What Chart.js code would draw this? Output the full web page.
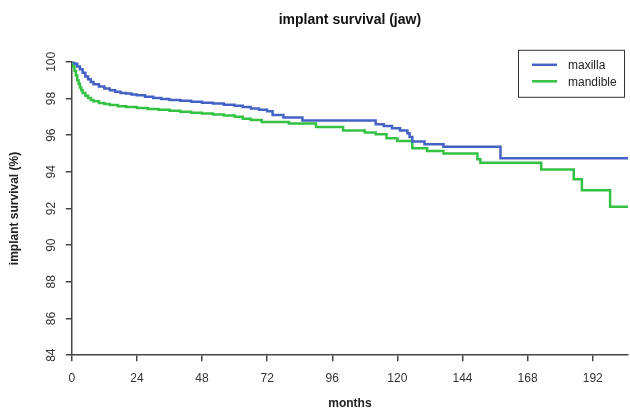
<!DOCTYPE html>
<html lang="en">
<head>
  <meta charset="UTF-8">
  <script src="https://cdn.jsdelivr.net/npm/chart.js"></script>
  <title>implant survival (jaw)</title>
  <style>
    body { margin: 0; background: #fff; }
    #wrap { width: 630px; height: 408px; }
  </style>
</head>
<body>
  <div id="wrap"><canvas id="km"></canvas></div>

  <script>
    const seriesNames = ["maxilla", "mandible"];
    const seriesColors = ["#4462c4", "#34c242"];

    const maxillaMonths = [0, 1, 2, 3, 4, 5, 6, 7, 8, 10, 12, 14, 16, 18, 20, 22, 24, 27, 30, 33, 36, 40, 44, 48, 52, 56, 60, 63, 66, 69, 72, 74, 78, 85, 112, 115, 118, 121, 123.7, 124.5, 125.5, 130, 137, 158, 205];
    const maxillaSurvival = [100, 99.9, 99.75, 99.6, 99.4, 99.2, 99.05, 98.9, 98.78, 98.65, 98.55, 98.45, 98.36, 98.3, 98.27, 98.22, 98.17, 98.1, 98.03, 97.97, 97.92, 97.87, 97.82, 97.77, 97.72, 97.66, 97.6, 97.53, 97.46, 97.38, 97.3, 97.1, 96.96, 96.8, 96.6, 96.5, 96.38, 96.25, 96.1, 95.9, 95.65, 95.5, 95.37, 94.74, 94.74];

    const mandibleMonths = [0, 0.5, 1, 1.5, 2, 2.5, 3, 3.5, 4, 5, 6, 7, 8, 10, 12, 14, 17, 20, 24, 28, 32, 36, 40, 44, 48, 52, 56, 60, 63, 66, 70, 80, 90, 100, 108, 112, 116, 120, 125.5, 131, 137, 149.5, 150.6, 173, 185, 188, 198.4, 205];
    const mandibleSurvival = [100, 99.75, 99.5, 99.25, 99.0, 98.8, 98.6, 98.45, 98.3, 98.15, 98.02, 97.92, 97.85, 97.76, 97.7, 97.65, 97.58, 97.53, 97.48, 97.42, 97.38, 97.33, 97.28, 97.22, 97.18, 97.12, 97.07, 97.0, 96.9, 96.82, 96.72, 96.63, 96.45, 96.25, 96.15, 96.05, 95.83, 95.68, 95.28, 95.14, 95.0, 94.68, 94.5, 94.13, 93.6, 93.0, 92.1, 92.1];

    const xTicks = [0, 24, 48, 72, 96, 120, 144, 168, 192];
    const yTicks = [84, 86, 88, 90, 92, 94, 96, 98, 100];

    const toPoints = (xs, ys) => xs.map((x, i) => ({ x, y: ys[i] }));
    const axisColor = "#444";
    const tickFont = { family: "Liberation Sans", size: 12 };

    // legend box drawn inside the plot, like R's legend("topright")
    const boxLegend = {
      id: "boxLegend",
      afterDraw(chart) {
        const ctx = chart.ctx;
        const right = chart.chartArea.right - 4;
        const top = chart.chartArea.top - 12;
        const w = 106, h = 47;
        ctx.save();
        ctx.strokeStyle = "#333";
        ctx.lineWidth = 1;
        ctx.strokeRect(right - w + 0.5, top + 0.5, w, h);
        ctx.font = "12px Liberation Sans";
        ctx.textBaseline = "middle";
        ctx.fillStyle = "#222";
        chart.data.datasets.forEach((ds, i) => {
          const y = top + 15 + i * 16.5;
          ctx.strokeStyle = ds.borderColor;
          ctx.lineWidth = 2.5;
          ctx.beginPath();
          ctx.moveTo(right - w + 14, y);
          ctx.lineTo(right - w + 39, y);
          ctx.stroke();
          ctx.fillText(ds.label, right - w + 50, y + 1);
        });
        ctx.restore();
      }
    };

    new Chart(document.getElementById("km"), {
      type: "line",
      data: {
        datasets: [
          { label: seriesNames[0], data: toPoints(maxillaMonths, maxillaSurvival), borderColor: seriesColors[0], stepped: true },
          { label: seriesNames[1], data: toPoints(mandibleMonths, mandibleSurvival), borderColor: seriesColors[1], stepped: true }
        ]
      },
      options: {
        responsive: true,
        maintainAspectRatio: false,
        animation: false,
        elements: { point: { radius: 0 }, line: { borderWidth: 2.5 } },
        layout: { padding: { left: 7, right: 2, top: 4, bottom: 0 } },
        plugins: {
          legend: { display: false },
          tooltip: { enabled: false },
          title: {
            display: true,
            text: "implant survival (jaw)",
            fullSize: false,
            color: "#111",
            font: { family: "Liberation Sans", size: 14, weight: "bold" },
            padding: { top: 8, bottom: 33 }
          }
        },
        scales: {
          x: {
            type: "linear",
            min: 0,
            max: 205,
            afterBuildTicks: s => { s.ticks = xTicks.map(v => ({ value: v })); },
            ticks: { color: "#333", font: tickFont, padding: 10, maxRotation: 0 },
            grid: { display: true, drawOnChartArea: false, drawTicks: true, tickLength: 6, color: axisColor, lineWidth: 1.5 },
            border: { display: true, color: axisColor, width: 1.5 },
            title: { display: true, text: "months", color: "#222", font: { family: "Liberation Sans", size: 12, weight: "bold" }, padding: { top: 1, bottom: -3 } }
          },
          y: {
            min: 84,
            max: 100,
            afterBuildTicks: s => { s.ticks = yTicks.map(v => ({ value: v })); },
            ticks: { color: "#333", font: tickFont, padding: 4, minRotation: 90, maxRotation: 90, crossAlign: "center" },
            grid: { display: true, drawOnChartArea: false, drawTicks: true, tickLength: 6, color: axisColor, lineWidth: 1.5 },
            border: { display: true, color: axisColor, width: 1.5 },
            title: { display: true, text: "implant survival (%)", color: "#222", font: { family: "Liberation Sans", size: 12, weight: "bold" }, padding: { top: 0, bottom: 22 } }
          }
        }
      },
      plugins: [boxLegend]
    });
  </script>
</body>
</html>
